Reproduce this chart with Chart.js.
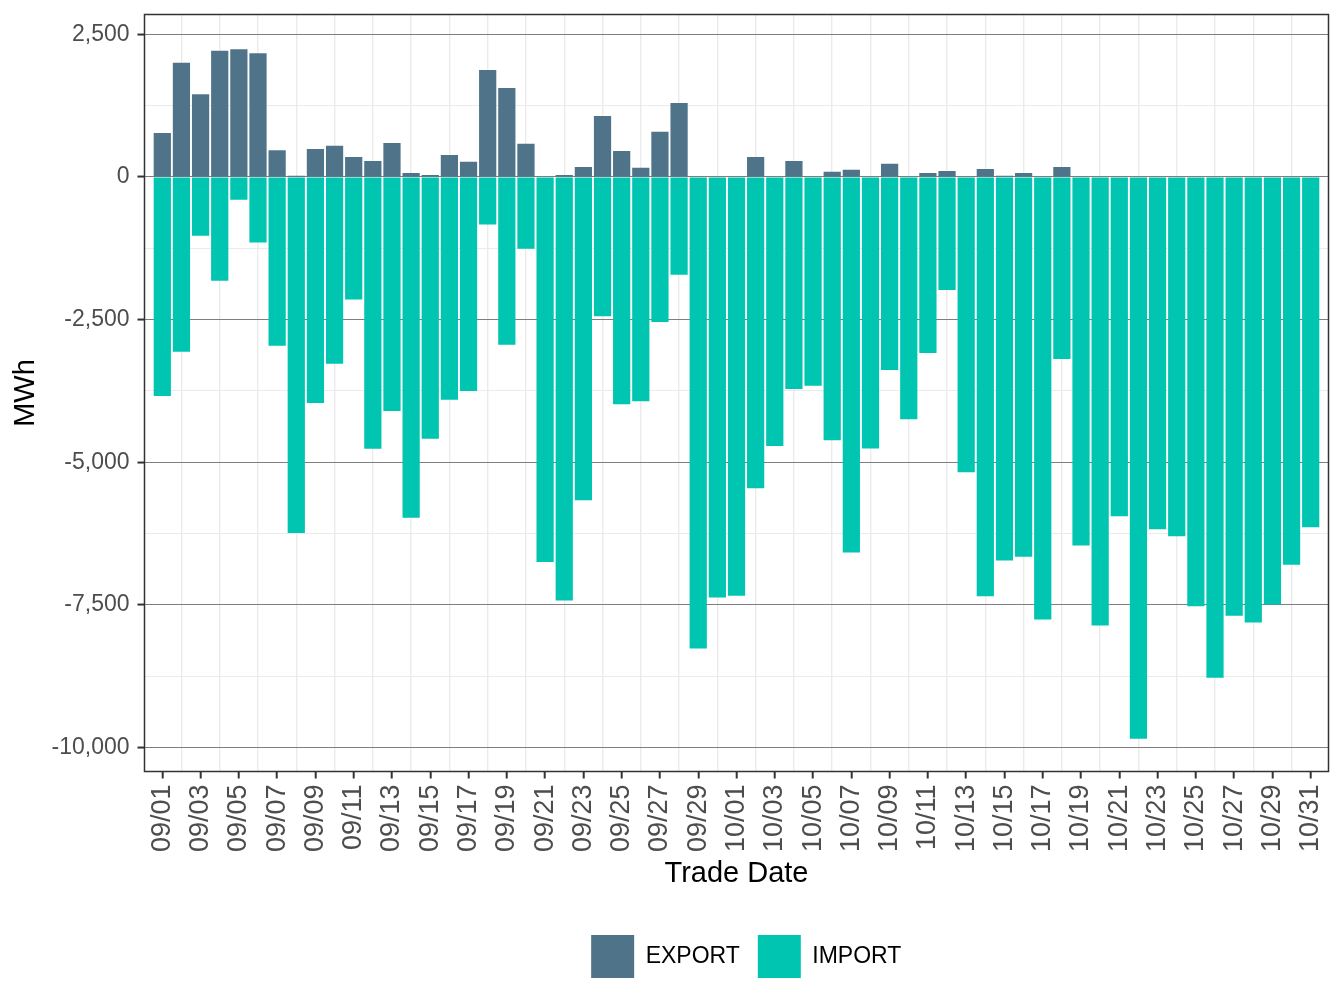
<!DOCTYPE html>
<html>
<head>
<meta charset="utf-8">
<script src="https://cdn.jsdelivr.net/npm/chart.js@4/dist/chart.umd.min.js"></script>
<style>
  html, body { margin: 0; padding: 0; background: #ffffff; }
  #wrap { width: 1344px; height: 1008px; position: relative; }
</style>
</head>
<body>
<div id="wrap"><canvas id="c" width="1344" height="1008"></canvas></div>
<script>
// ---- data ----
const dates = [
  "09/01","09/02","09/03","09/04","09/05","09/06","09/07","09/08","09/09","09/10",
  "09/11","09/12","09/13","09/14","09/15","09/16","09/17","09/18","09/19","09/20",
  "09/21","09/22","09/23","09/24","09/25","09/26","09/27","09/28","09/29","09/30",
  "10/01","10/02","10/03","10/04","10/05","10/06","10/07","10/08","10/09","10/10",
  "10/11","10/12","10/13","10/14","10/15","10/16","10/17","10/18","10/19","10/20",
  "10/21","10/22","10/23","10/24","10/25","10/26","10/27","10/28","10/29","10/30",
  "10/31"
];
const exportMWh = [
  770, 2000, 1450, 2210, 2240, 2170, 470, 20, 490, 545,
  350, 280, 595, 70, 35, 385, 265, 1875, 1560, 580,
  0, 35, 175, 1070, 455, 160, 790, 1295, 0, 0,
  0, 350, 0, 280, 0, 90, 125, 0, 230, 0,
  70, 105, 0, 140, 20, 70, 0, 175, 0, 0,
  0, 0, 0, 0, 0, 0, 0, 0, 0, 0,
  0
];
const importMWh = [
  -3840, -3065, -1030, -1820, -400, -1150, -2960, -6240, -3960, -3275,
  -2150, -4765, -4100, -5975, -4590, -3905, -3750, -835, -2940, -1260,
  -6750, -7425, -5665, -2440, -3985, -3930, -2540, -1715, -8265, -7370,
  -7340, -5455, -4715, -3715, -3660, -4615, -6580, -4760, -3385, -4245,
  -3085, -1980, -5175, -7350, -6720, -6655, -7755, -3190, -6460, -7860,
  -5945, -9845, -6175, -6295, -7525, -8775, -7690, -7810, -7495, -6795,
  -6140
];
const seriesNames = ["EXPORT", "IMPORT"];
const yTickValues = [-10000, -8750, -7500, -6250, -5000, -3750, -2500, -1250, 0, 1250, 2500];
const yLabelValues = [-10000, -7500, -5000, -2500, 0, 2500];

// ---- styling ----
const FONT = "'Liberation Sans', Arial, Helvetica, sans-serif";
const colExport = "#4F7389";
const colImport = "#00C5B1";
const isMajorY = v => yLabelValues.indexOf(v) !== -1;

const panelFrame = {
  id: "panelFrame",
  afterDatasetsDraw(chart) {
    const { ctx, chartArea: a } = chart;
    ctx.save();
    ctx.strokeStyle = "#333333";
    ctx.lineWidth = 1.5;
    ctx.strokeRect(a.left, a.top, a.right - a.left, a.bottom - a.top);
    ctx.restore();
  }
};
const legendShift = {
  id: "legendShift",
  afterLayout(chart) {
    const lg = chart.legend;
    if (lg) { lg.left += 82; lg.right += 82; }
  }
};

new Chart(document.getElementById("c"), {
  type: "bar",
  data: {
    datasets: [
      {
        label: seriesNames[0],
        data: exportMWh.map((v, i) => ({ x: i, y: v })),
        backgroundColor: colExport,
        borderColor: colExport,
        borderWidth: 0,
        barPercentage: 0.9,
        categoryPercentage: 1.0
      },
      {
        label: seriesNames[1],
        data: importMWh.map((v, i) => ({ x: i, y: v })),
        backgroundColor: colImport,
        borderColor: colImport,
        borderWidth: 0,
        barPercentage: 0.9,
        categoryPercentage: 1.0
      }
    ]
  },
  options: {
    responsive: false,
    animation: false,
    layout: { padding: { top: 14.5, right: 15.5, left: 0, bottom: 20 } },
    scales: {
      x: {
        type: "linear",
        stacked: true,
        offset: false,
        min: -0.93,
        max: 60.93,
        afterBuildTicks: axis => { axis.ticks = dates.map((d, i) => ({ value: i })); },
        afterFit: axis => {
          axis.height = 145.5;
          axis.paddingLeft = 0; axis.paddingRight = 0;
          axis.paddingTop = 0; axis.paddingBottom = 0;
        },
        border: { display: false },
        grid: {
          offset: false,
          color: c => (c.index % 2 ? "#EBEBEB" : "rgba(0,0,0,0)"),
          lineWidth: 1.4,
          drawTicks: true,
          tickLength: 7,
          tickWidth: 2,
          tickColor: c => (c.index % 2 ? "rgba(0,0,0,0)" : "#333333")
        },
        ticks: {
          autoSkip: false,
          minRotation: 90,
          maxRotation: 90,
          padding: 6,
          color: "#4D4D4D",
          font: { family: FONT, size: 27 },
          callback: v => (v % 2 === 0 ? dates[v] : "")
        },
        title: {
          display: true,
          text: "Trade Date",
          color: "#000000",
          font: { family: FONT, size: 29 },
          padding: { top: 0, bottom: 26 }
        }
      },
      y: {
        type: "linear",
        stacked: true,
        min: -10420,
        max: 2847,
        afterBuildTicks: axis => { axis.ticks = yTickValues.map(v => ({ value: v })); },
        afterFit: axis => {
          axis.width = 144.5;
          axis.paddingLeft = 0; axis.paddingRight = 0;
          axis.paddingTop = 0; axis.paddingBottom = 0;
        },
        border: { display: false },
        grid: {
          color: c => (isMajorY(c.tick.value) ? "#7F7F7F" : "#EBEBEB"),
          lineWidth: 1.1,
          drawTicks: true,
          tickLength: 7,
          tickWidth: 2,
          tickColor: c => (isMajorY(c.tick.value) ? "#333333" : "rgba(0,0,0,0)")
        },
        ticks: {
          padding: 8,
          color: "#4D4D4D",
          font: { family: FONT, size: 23 },
          callback: v => (isMajorY(v) ? v.toLocaleString("en-US") : "")
        },
        title: {
          display: true,
          text: "MWh",
          color: "#000000",
          font: { family: FONT, size: 29 },
          padding: { top: 8.6, bottom: 0 }
        }
      }
    },
    plugins: {
      tooltip: { enabled: false },
      legend: {
        display: true,
        position: "bottom",
        labels: {
          boxWidth: 43,
          boxHeight: 43,
          padding: 18,
          color: "#000000",
          font: { family: FONT, size: 23 }
        }
      }
    }
  },
  plugins: [panelFrame, legendShift]
});
</script>
</body>
</html>
